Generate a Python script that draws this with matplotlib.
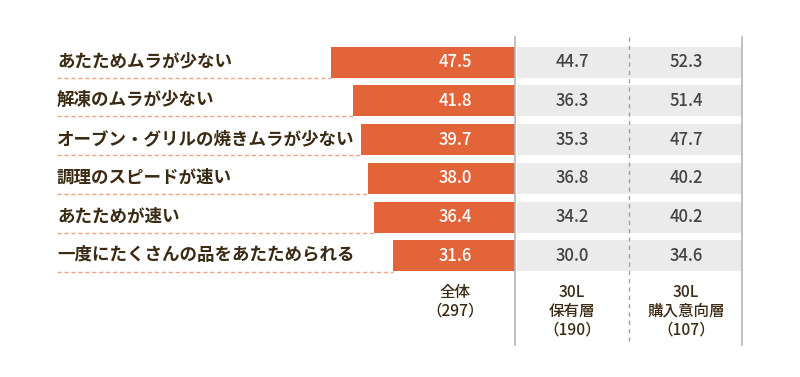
import matplotlib
matplotlib.use("Agg")
import matplotlib.pyplot as plt

plt.rcParams['font.family'] = ['Noto Sans CJK JP', 'DejaVu Sans']

categories = ["あたためムラが少ない", "解凍のムラが少ない", "オーブン・グリルの焼きムラが少ない",
              "調理のスピードが速い", "あたためが速い", "一度にたくさんの品をあたためられる"]
total = [47.5, 41.8, 39.7, 38.0, 36.4, 31.6]
owners = [44.7, 36.3, 35.3, 36.8, 34.2, 30.0]
intenders = [52.3, 51.4, 47.7, 40.2, 40.2, 34.6]
headers = ["全体\n（297）", "30L\n保有層\n（190）", "30L\n購入意向層\n（107）"]

ORANGE = "#E4643A"
GRAY = "#EBEBEB"
BROWN = "#3B2A14"
TXT = "#444444"

W, H = 800, 377
fig = plt.figure(figsize=(W/100, H/100), dpi=100)
ax = fig.add_axes([0, 0, 1, 1])
ppu = 3.874  # pixels per unit
x0 = 515
ax.set_xlim(-x0/ppu, (W-x0)/ppu)
pitch = 38.8
y0 = 62
ax.set_ylim((H-y0)/pitch, -y0/pitch)
ax.axis('off')

n = len(categories)
ys = list(range(n))
bh = 31/pitch
ax.barh(ys, [-v for v in total], left=0, height=bh, color=ORANGE, zorder=2)
gl = 2/ppu
gr = (742-x0)/ppu
ax.barh(ys, [gr-gl]*n, left=gl, height=bh, color=GRAY, zorder=1)

lab_x = -(x0-57)/ppu
col1 = -(x0-455)/ppu
col2 = (572-x0)/ppu
col3 = (686-x0)/ppu
for i, (c, t, o, p) in enumerate(zip(categories, total, owners, intenders)):
    ax.text(lab_x, i-0.02, c, ha='left', va='center', fontsize=12.6, fontweight='bold', color=BROWN)
    ax.plot([lab_x, -t], [i+bh/2, i+bh/2], color="#F2A184", lw=1, ls=(0, (3, 2)), zorder=1)
    ax.text(col1, i, f"{t:.1f}", ha='center', va='center', fontsize=12, fontweight='medium', color='white', zorder=3)
    ax.text(col2, i, f"{o:.1f}", ha='center', va='center', fontsize=12, fontweight='medium', color=TXT, zorder=3)
    ax.text(col3, i, f"{p:.1f}", ha='center', va='center', fontsize=12, fontweight='medium', color=TXT, zorder=3)

ytop = (37-y0)/pitch
ybot = (345-y0)/pitch
ax.plot([0.3/ppu, 0.3/ppu], [ytop, ybot], color="#B5B5B5", lw=1.2, zorder=4)
ax.plot([gr, gr], [ytop, ybot], color="#B5B5B5", lw=1.2, zorder=4)
xm = (629-x0)/ppu
ax.plot([xm, xm], [ytop, ybot], color="#A0A0A0", lw=1, ls=(0, (3, 3)), zorder=4)

hy = (284-y0)/pitch
for xx, h in zip([col1, col2, col3], headers):
    ax.text(xx, hy, h, ha='center', va='top', fontsize=11.2, fontweight='medium', color=BROWN, linespacing=1.15)

fig.savefig("out.png", dpi=100)
